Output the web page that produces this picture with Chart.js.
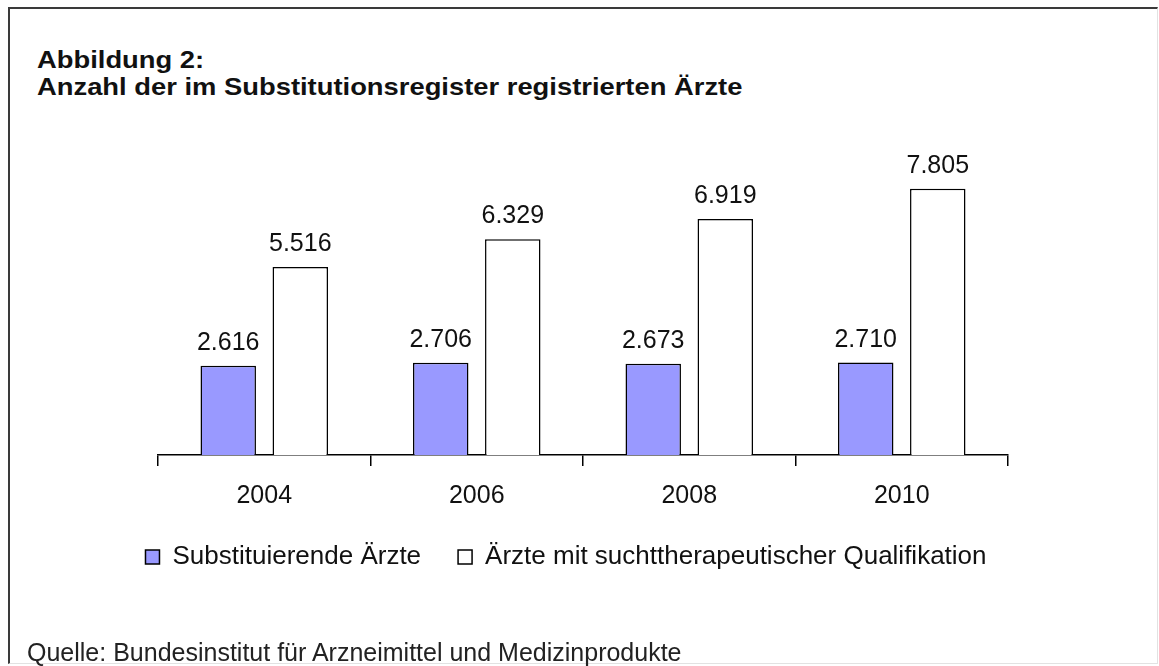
<!DOCTYPE html>
<html>
<head>
<meta charset="utf-8">
<script src="https://cdn.jsdelivr.net/npm/chart.js@4.4.1/dist/chart.umd.min.js"></script>
<style>
  html, body { margin: 0; padding: 0; background: #fff; }
  body { width: 1159px; height: 666px; position: relative; overflow: hidden; font-family: "Liberation Sans", Arial, sans-serif; }
  #frame { position: absolute; left: 8px; top: 7px; width: 1147px; height: 654px; border-top: 2px solid #3a3a3a; border-left: 2px solid #3a3a3a; border-right: 1px solid #e2e2e2; border-bottom: 1px solid #e2e2e2; }
  #title { position: absolute; left: 37px; top: 46px; font-weight: bold; font-size: 24px; line-height: 27px; color: #111; white-space: nowrap; transform: scaleX(1.14); transform-origin: 0 0; }
  #source { position: absolute; left: 27px; top: 638px; font-size: 25px; line-height: 28px; color: #222; white-space: nowrap; }
  #wrap { position: absolute; left: 0; top: 0; width: 1159px; height: 666px; }
</style>
</head>
<body>
<div id="frame"></div>
<div id="title">Abbildung 2:<br>Anzahl der im Substitutionsregister registrierten Ärzte</div>
<div id="wrap"><canvas id="c" width="1159" height="666"></canvas></div>
<div id="source">Quelle: Bundesinstitut für Arzneimittel und Medizinprodukte</div>
<script>
const years = ['2004', '2006', '2008', '2010'];
const substituierende = [2616, 2706, 2673, 2710];
const qualifikation = [5516, 6329, 6919, 7805];
const seriesNames = ['Substituierende Ärzte', 'Ärzte mit suchttherapeutischer Qualifikation'];

function fmtDE(v) {
  return String(v).replace(/\B(?=(\d{3})+(?!\d))/g, '.');
}

const valueLabels = {
  id: 'valueLabels',
  afterDatasetsDraw(chart) {
    const ctx = chart.ctx;
    ctx.save();
    ctx.font = '25px "Liberation Sans", Arial, sans-serif';
    ctx.fillStyle = '#111';
    ctx.textAlign = 'center';
    ctx.textBaseline = 'alphabetic';
    chart.data.datasets.forEach((ds, i) => {
      const meta = chart.getDatasetMeta(i);
      meta.data.forEach((bar, j) => {
        ctx.fillText(fmtDE(ds.data[j]), bar.x, bar.y - 16);
      });
    });
    ctx.restore();
  }
};

Chart.defaults.font.family = '"Liberation Sans", Arial, sans-serif';
Chart.defaults.color = '#111';

new Chart(document.getElementById('c'), {
  type: 'bar',
  data: {
    labels: years,
    datasets: [
      { label: seriesNames[0], data: substituierende, backgroundColor: '#9999ff', borderColor: '#000', borderWidth: 1.5, categoryPercentage: 0.678, barPercentage: 0.77 },
      { label: seriesNames[1], data: qualifikation, backgroundColor: '#ffffff', borderColor: '#000', borderWidth: 1.5, categoryPercentage: 0.678, barPercentage: 0.77 }
    ]
  },
  options: {
    responsive: false,
    animation: false,
    devicePixelRatio: 1,
    layout: { padding: { left: 0, right: 27, top: 114, bottom: 86 } },
    plugins: {
      title: { display: false },
      tooltip: { enabled: false },
      legend: {
        position: 'bottom',
        align: 'center',
        labels: {
          boxWidth: 14,
          boxHeight: 14,
          padding: 37,
          color: '#111',
          font: { size: 26 }
        }
      }
    },
    scales: {
      x: {
        grid: { display: true, drawOnChartArea: false, drawTicks: true, tickLength: 11, color: '#000', lineWidth: 1.5, offset: true },
        border: { display: true, color: '#000', width: 1.5 },
        ticks: { font: { size: 25, lineHeight: 1 }, color: '#111', padding: 18, maxRotation: 0 },
        afterFit(s) { s.height = 52; }
      },
      y: {
        min: 0,
        max: 10000,
        position: 'left',
        display: true,
        grid: { display: false },
        border: { display: false },
        ticks: { display: false },
        afterFit(s) { s.width = 158; }
      },
      yRight: {
        type: 'linear',
        position: 'right',
        display: true,
        grid: { display: false },
        border: { display: false },
        ticks: { display: false },
        afterFit(s) { s.width = 124; }
      }
    }
  },
  plugins: [valueLabels]
});
</script>
</body>
</html>
